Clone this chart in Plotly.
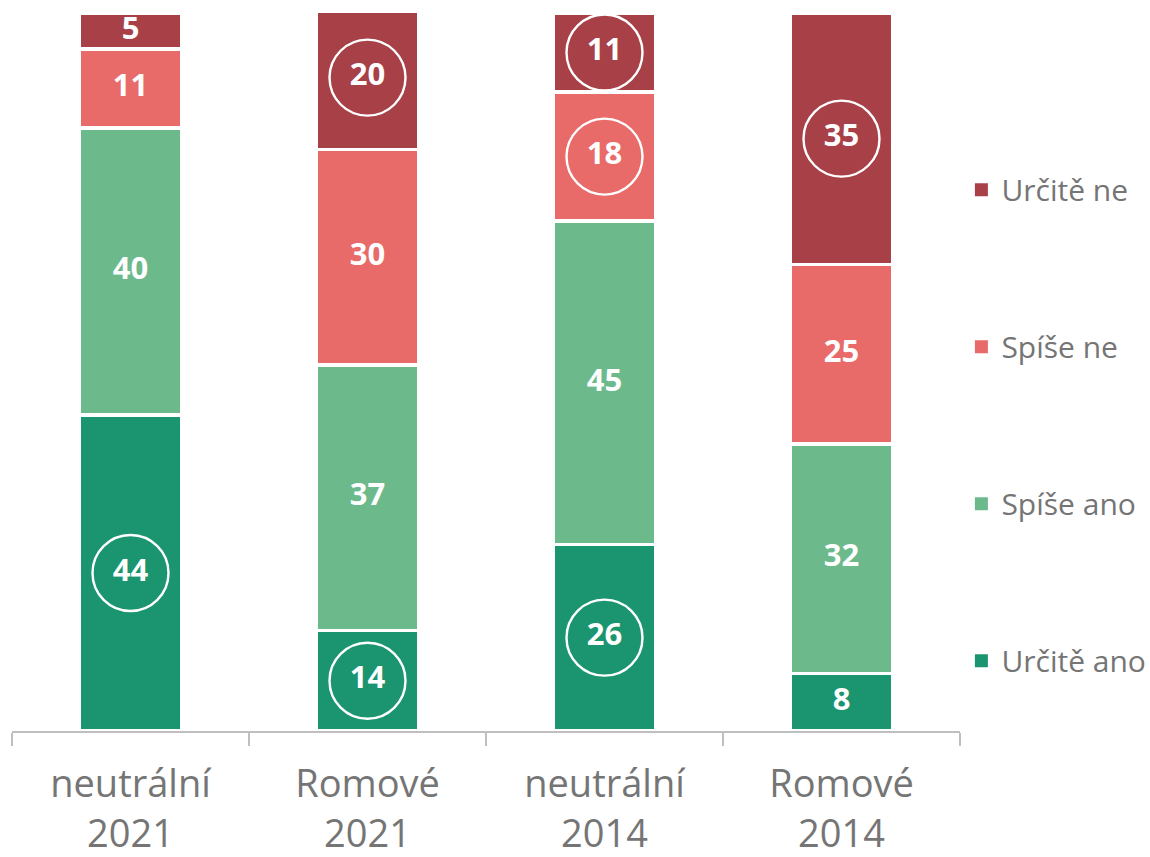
import plotly.graph_objects as go

categories = ["neutrální<br>2021", "Romové<br>2021", "neutrální<br>2014", "Romové<br>2014"]
series_names = ["Určitě ano", "Spíše ano", "Spíše ne", "Určitě ne"]
urcite_ano = [44, 14, 26, 8]
spise_ano = [40, 37, 45, 32]
spise_ne = [11, 30, 18, 25]
urcite_ne = [5, 20, 11, 35]
# circled (highlighted) values per series
circ_urcite_ano = [True, True, True, False]
circ_spise_ano = [False, False, False, False]
circ_spise_ne = [False, False, True, False]
circ_urcite_ne = [False, True, True, True]

colors = ["#1B956F", "#6CBA8B", "#E86A69", "#A84048"]
series = [urcite_ano, spise_ano, spise_ne, urcite_ne]
circles = [circ_urcite_ano, circ_spise_ano, circ_spise_ne, circ_urcite_ne]

FONT = "Open Sans"
GRAY = "#757575"
fig = go.Figure()
for i, (name, vals, col) in enumerate(zip(series_names, series, colors)):
    fig.add_trace(go.Bar(
        x=categories, y=vals, name=name, showlegend=False,
        marker=dict(color=col, line=dict(color="white", width=3.5)),
        width=0.43, textposition="none", hoverinfo="skip",
    ))
    # legend entry with a larger square symbol
    fig.add_trace(go.Scatter(
        x=[None], y=[None], mode="markers", name=name, legendgroup=name,
        legendrank=len(series_names) - i,
        marker=dict(symbol="square", size=13, color=col), hoverinfo="skip",
    ))

# label positions (segment midpoints) and circles
lx, ly, lt, cx, cy = [], [], [], [], []
for j, cat in enumerate(categories):
    base = 0
    for vals, circ in zip(series, circles):
        mid = base + vals[j] / 2
        lx.append(cat); ly.append(mid); lt.append(f"<b>{vals[j]}</b>")
        if circ[j]:
            cx.append(cat); cy.append(mid)
        base += vals[j]

fig.add_trace(go.Scatter(
    x=lx, y=ly, text=lt, mode="text", showlegend=False, hoverinfo="skip",
    textfont=dict(color="white", size=31, family=FONT), cliponaxis=False,
))
fig.add_trace(go.Scatter(
    x=cx, y=cy, mode="markers", showlegend=False, hoverinfo="skip",
    marker=dict(symbol="circle-open", size=76, color="white",
                line=dict(color="white", width=2.4)),
    cliponaxis=False,
))

fig.update_layout(
    barmode="stack",
    width=1150, height=857,
    margin=dict(l=12, r=190, t=13, b=126, autoexpand=False),
    plot_bgcolor="white", paper_bgcolor="white",
    font=dict(family=FONT, color=GRAY),
    showlegend=True,
    legend=dict(
        traceorder="grouped", tracegroupgap=115,
        xref="container", x=0.836, xanchor="left", y=0.426, yanchor="middle",
        font=dict(size=30, color=GRAY, family=FONT),
        itemwidth=30,
    ),
)
fig.update_xaxes(
    type="category", range=[-0.5, 3.5],
    showline=True, linecolor="#BFBFBF", linewidth=1.5,
    ticks="outside", tickson="boundaries", ticklen=13, tickcolor="#BFBFBF", tickwidth=1.5,
    tickfont=dict(size=38, color=GRAY, family=FONT), ticklabelstandoff=19,
    showgrid=False, automargin=False,
)
fig.update_yaxes(range=[0, 100], visible=False, showgrid=False)

fig.write_html("out.html", config={"displayModeBar": False},
               post_script="document.body.style.margin='0';")
